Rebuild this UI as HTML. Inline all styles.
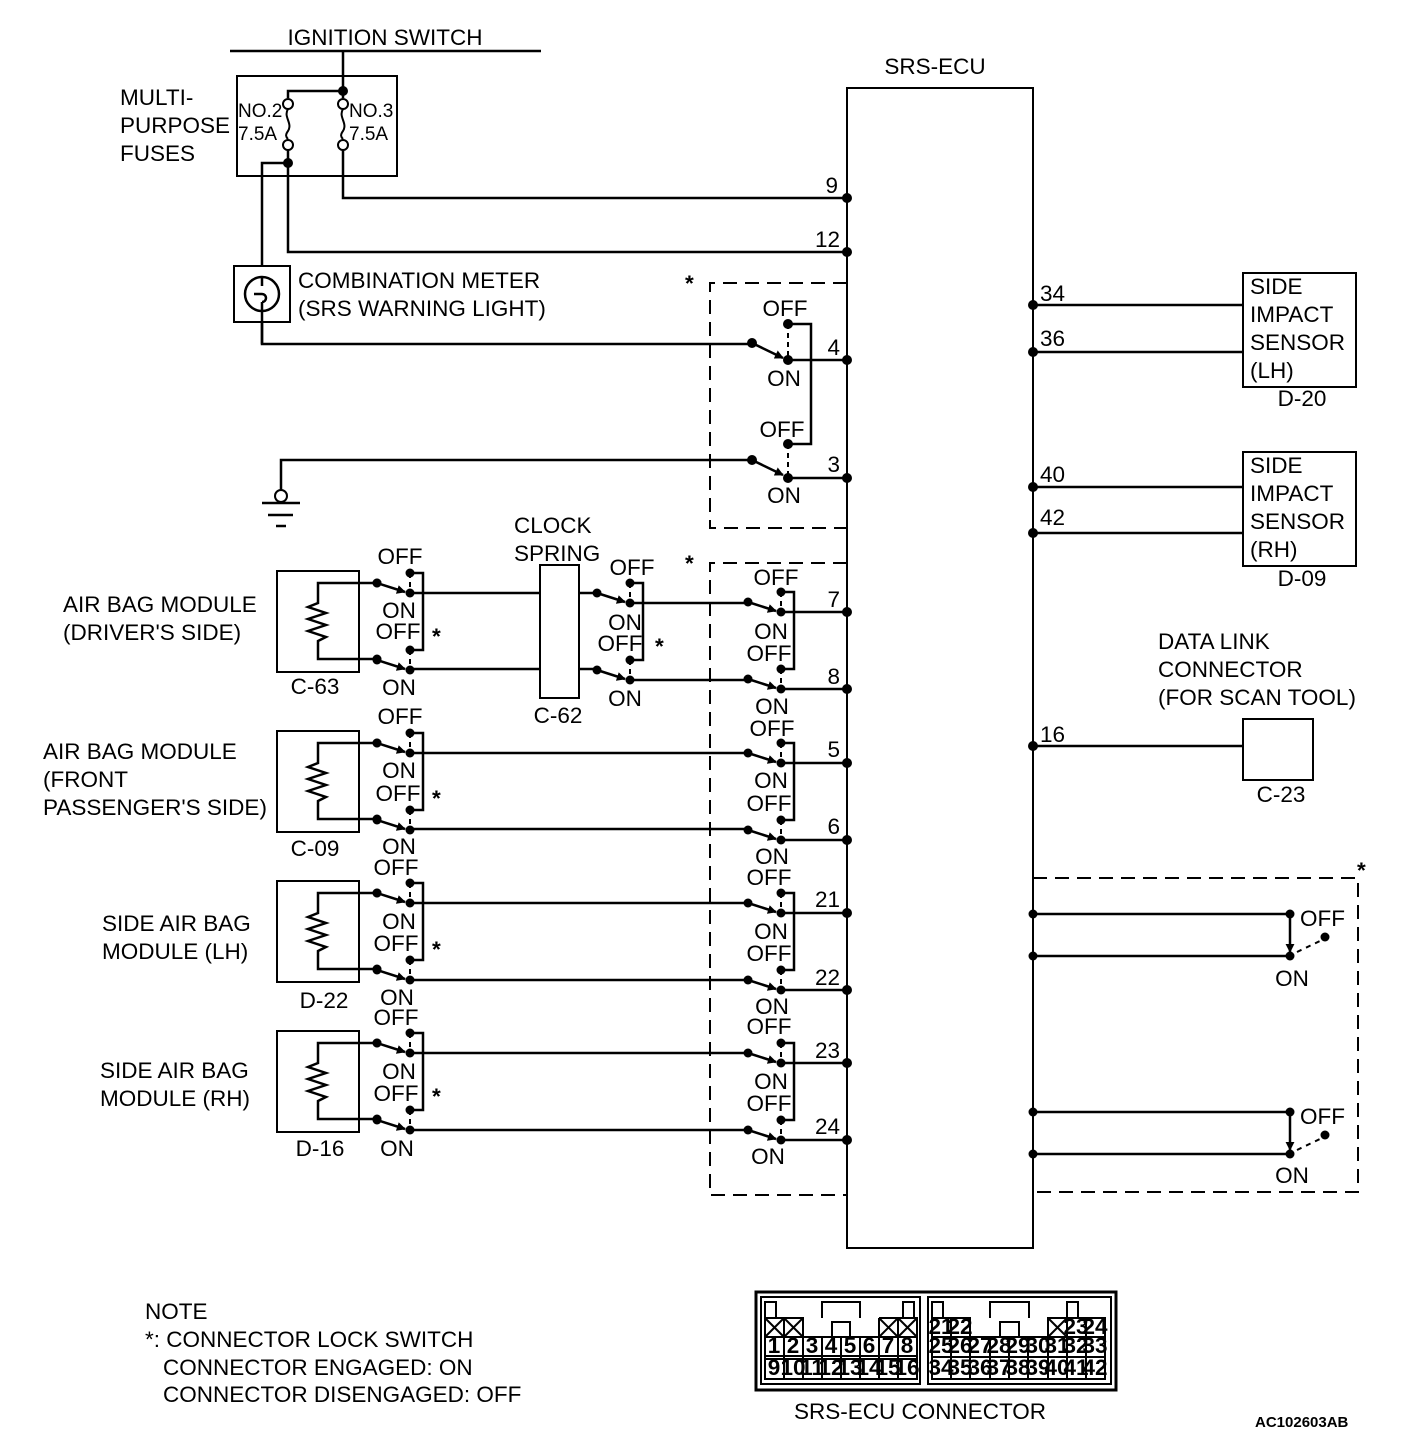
<!DOCTYPE html>
<html><head><meta charset="utf-8"><style>
html,body{margin:0;padding:0;background:#fff}
svg{display:block}
text{font-family:"Liberation Sans",Arial,sans-serif;font-size:22.5px;fill:#000}
</style></head><body>
<svg width="1408" height="1446" viewBox="0 0 1408 1446" xmlns="http://www.w3.org/2000/svg">
<defs>
<marker id="ar" viewBox="0 0 10 10" refX="9" refY="5" markerWidth="9" markerHeight="9" markerUnits="userSpaceOnUse" orient="auto"><path d="M0,0L10,5L0,10z" fill="#000"/></marker>
<g id="sw" stroke="#000" stroke-width="2.5" fill="none">
<line x1="-33" y1="-10" x2="-5" y2="-1" marker-end="url(#ar)"/>
<line x1="0" y1="-20" x2="0" y2="0" stroke-dasharray="5,4" stroke-width="2"/>
<path d="M0,-20H13V57H0"/>
<line x1="0" y1="57" x2="0" y2="77" stroke-dasharray="5,4" stroke-width="2"/>
<line x1="-33" y1="67" x2="-5" y2="76" marker-end="url(#ar)"/>
<g fill="#000" stroke="none">
<circle cx="-33" cy="-10" r="4.5"/><circle cx="0" cy="0" r="4.5"/><circle cx="0" cy="-20" r="4.5"/>
<circle cx="0" cy="57" r="4.5"/><circle cx="-33" cy="67" r="4.5"/><circle cx="0" cy="77" r="4.5"/>
</g></g>
<g id="mod" stroke="#000" stroke-width="2.5" fill="none">
<rect x="277" y="0" width="82" height="101" stroke-width="2"/>
<path d="M377,12H318V32l-10,4l18,6l-18,6l18,6l-18,6l18,6l-8,4V88H377"/>
<circle cx="377" cy="12" r="4.5" fill="#000" stroke="none"/>
<circle cx="377" cy="88" r="4.5" fill="#000" stroke="none"/>
</g>
<g id="rsw" stroke="#000" stroke-width="2.5" fill="none">
<line x1="1290" y1="0" x2="1290" y2="38" marker-end="url(#ar)"/>
<line x1="1297" y1="38" x2="1322" y2="26" stroke-dasharray="5,5" stroke-width="2"/>
<g fill="#000" stroke="none"><circle cx="1290" cy="0" r="4.5"/><circle cx="1290" cy="42" r="4.5"/><circle cx="1325" cy="23" r="4.5"/><circle cx="1033" cy="0" r="4.5"/><circle cx="1033" cy="42" r="4.5"/></g>
<line x1="1033" y1="0" x2="1290" y2="0"/><line x1="1033" y1="42" x2="1290" y2="42"/>
</g>
</defs>

<g stroke="#000" stroke-width="2.5" fill="none">
<line x1="230" y1="51" x2="541" y2="51"/>
<rect x="237" y="76" width="160" height="100" stroke-width="2"/>
<path d="M343,51V91H288V98"/>
<line x1="343" y1="91" x2="343" y2="98"/>
<circle cx="288" cy="104" r="5" stroke-width="2"/><circle cx="288" cy="145" r="5" stroke-width="2"/>
<circle cx="343" cy="104" r="5" stroke-width="2"/><circle cx="343" cy="145" r="5" stroke-width="2"/>
<path d="M288,109c-5,8 5,14 0,22c-3,4 -2,6 0,8" stroke-width="2"/>
<path d="M343,109c-5,8 5,14 0,22c-3,4 -2,6 0,8" stroke-width="2"/>
<path d="M288,150V252H847"/>
<path d="M343,150V198H847"/>
<path d="M288,163H262V344H752"/>
<rect x="234" y="266" width="56" height="56" stroke-width="2" fill="#fff"/>
<circle cx="262" cy="294" r="17" fill="#fff"/>
<path d="M262,277V286M262,302V322M254,294h8a4,4 0 0 1 0,8"/>
<line x1="262" y1="322" x2="262" y2="344"/>
<line x1="752" y1="343" x2="783" y2="358" marker-end="url(#ar)"/>
<line x1="788" y1="324" x2="788" y2="360" stroke-dasharray="5,4" stroke-width="2"/>
<path d="M788,324H811V444H788"/>
<line x1="788" y1="360" x2="847" y2="360"/>
<path d="M752,460H281V490"/>
<line x1="752" y1="460" x2="783" y2="475" marker-end="url(#ar)"/>
<line x1="788" y1="444" x2="788" y2="478" stroke-dasharray="5,4" stroke-width="2"/>
<line x1="788" y1="478" x2="847" y2="478"/>
<circle cx="281" cy="496" r="6" stroke-width="2"/>
<line x1="262" y1="503" x2="300" y2="503"/><line x1="268" y1="515" x2="293" y2="515"/><line x1="276" y1="526" x2="286" y2="526"/>
<rect x="847" y="88" width="186" height="1160" stroke-width="2"/>
<g stroke-dasharray="14,8" stroke-width="2">
<path d="M847,283H710V528H847"/>
<path d="M847,563H710V1195H847"/>
<path d="M1033,878H1358V1192H1033"/>
</g>
<rect x="1243" y="273" width="113" height="114" stroke-width="2"/>
<rect x="1243" y="452" width="113" height="114" stroke-width="2"/>
<rect x="1243" y="719" width="70" height="61" stroke-width="2"/>
<line x1="1033" y1="305" x2="1243" y2="305"/><line x1="1033" y1="352" x2="1243" y2="352"/>
<line x1="1033" y1="487" x2="1243" y2="487"/><line x1="1033" y1="533" x2="1243" y2="533"/>
<line x1="1033" y1="746" x2="1243" y2="746"/>
<rect x="540" y="565" width="39" height="133" stroke-width="2"/>
<line x1="410" y1="593" x2="540" y2="593"/><line x1="410" y1="669" x2="540" y2="669"/>
<line x1="579" y1="593" x2="597" y2="593"/><line x1="579" y1="669" x2="597" y2="669"/>
<line x1="630" y1="603" x2="748" y2="603"/><line x1="630" y1="680" x2="748" y2="680"/>
<line x1="781" y1="612" x2="847" y2="612"/><line x1="781" y1="689" x2="847" y2="689"/>
<line x1="410" y1="753" x2="748" y2="753"/><line x1="410" y1="829" x2="748" y2="829"/>
<line x1="781" y1="763" x2="847" y2="763"/><line x1="781" y1="840" x2="847" y2="840"/>
<line x1="410" y1="903" x2="748" y2="903"/><line x1="410" y1="980" x2="748" y2="980"/>
<line x1="781" y1="913" x2="847" y2="913"/><line x1="781" y1="990" x2="847" y2="990"/>
<line x1="410" y1="1053" x2="748" y2="1053"/><line x1="410" y1="1130" x2="748" y2="1130"/>
<line x1="781" y1="1063" x2="847" y2="1063"/><line x1="781" y1="1140" x2="847" y2="1140"/>
</g>
<g fill="#000">
<circle cx="343" cy="91" r="5"/><circle cx="288" cy="163" r="5"/>
<circle cx="752" cy="343" r="5"/><circle cx="788" cy="324" r="5"/><circle cx="788" cy="360" r="5"/>
<circle cx="752" cy="460" r="5"/><circle cx="788" cy="444" r="5"/><circle cx="788" cy="478" r="5"/>
<circle cx="847" cy="198" r="5"/><circle cx="847" cy="252" r="5"/><circle cx="847" cy="360" r="5"/><circle cx="847" cy="478" r="5"/>
<circle cx="847" cy="612" r="5"/><circle cx="847" cy="689" r="5"/><circle cx="847" cy="763" r="5"/><circle cx="847" cy="840" r="5"/>
<circle cx="847" cy="913" r="5"/><circle cx="847" cy="990" r="5"/><circle cx="847" cy="1063" r="5"/><circle cx="847" cy="1140" r="5"/>
<circle cx="1033" cy="305" r="5"/><circle cx="1033" cy="352" r="5"/><circle cx="1033" cy="487" r="5"/><circle cx="1033" cy="533" r="5"/><circle cx="1033" cy="746" r="5"/>
</g>
<use href="#mod" transform="translate(0,571)"/>
<use href="#mod" transform="translate(0,731)"/>
<use href="#mod" transform="translate(0,881)"/>
<use href="#mod" transform="translate(0,1031)"/>
<use href="#sw" transform="translate(410,593)"/>
<use href="#sw" transform="translate(410,753)"/>
<use href="#sw" transform="translate(410,903)"/>
<use href="#sw" transform="translate(410,1053)"/>
<use href="#sw" transform="translate(630,603)"/>
<use href="#sw" transform="translate(781,612)"/>
<use href="#sw" transform="translate(781,763)"/>
<use href="#sw" transform="translate(781,913)"/>
<use href="#sw" transform="translate(781,1063)"/>
<use href="#rsw" transform="translate(0,914)"/>
<use href="#rsw" transform="translate(0,1112)"/>

<text x="385" y="45" text-anchor="middle">IGNITION SWITCH</text>
<text x="935" y="74" text-anchor="middle">SRS-ECU</text>
<text x="120" y="105">MULTI-</text>
<text x="120" y="133">PURPOSE</text>
<text x="120" y="161">FUSES</text>
<text x="238" y="117" style="font-size:19px">NO.2</text>
<text x="238" y="140" style="font-size:19px">7.5A</text>
<text x="349" y="117" style="font-size:19px">NO.3</text>
<text x="349" y="140" style="font-size:19px">7.5A</text>
<text x="298" y="288">COMBINATION METER</text>
<text x="298" y="316">(SRS WARNING LIGHT)</text>
<g text-anchor="end"><text x="838" y="193">9</text><text x="840" y="247">12</text><text x="840" y="355">4</text><text x="840" y="472">3</text>
<text x="840" y="607">7</text><text x="840" y="684">8</text><text x="840" y="757">5</text><text x="840" y="834">6</text>
<text x="840" y="907">21</text><text x="840" y="985">22</text><text x="840" y="1058">23</text><text x="840" y="1134">24</text></g>
<text x="1040" y="301">34</text><text x="1040" y="346">36</text><text x="1040" y="482">40</text><text x="1040" y="525">42</text><text x="1040" y="742">16</text>
<g text-anchor="middle">
<text x="785" y="316">OFF</text><text x="784" y="386">ON</text><text x="782" y="437">OFF</text><text x="784" y="503">ON</text>
<text x="400" y="564">OFF</text><text x="399" y="618">ON</text><text x="398" y="639">OFF</text><text x="399" y="695">ON</text>
<text x="400" y="724">OFF</text><text x="399" y="778">ON</text><text x="398" y="801">OFF</text><text x="399" y="854">ON</text>
<text x="396" y="875">OFF</text><text x="399" y="929">ON</text><text x="396" y="951">OFF</text><text x="397" y="1005">ON</text>
<text x="396" y="1025">OFF</text><text x="399" y="1079">ON</text><text x="396" y="1101">OFF</text><text x="397" y="1156">ON</text>
<text x="632" y="575">OFF</text><text x="625" y="630">ON</text><text x="620" y="651">OFF</text><text x="625" y="706">ON</text>
<text x="776" y="585">OFF</text><text x="771" y="639">ON</text><text x="769" y="661">OFF</text><text x="772" y="714">ON</text>
<text x="772" y="736">OFF</text><text x="771" y="788">ON</text><text x="769" y="811">OFF</text><text x="772" y="864">ON</text>
<text x="769" y="885">OFF</text><text x="771" y="939">ON</text><text x="769" y="961">OFF</text><text x="772" y="1014">ON</text>
<text x="769" y="1034">OFF</text><text x="771" y="1089">ON</text><text x="769" y="1111">OFF</text><text x="768" y="1164">ON</text>
<text x="315" y="694">C-63</text><text x="315" y="856">C-09</text><text x="324" y="1008">D-22</text><text x="320" y="1156">D-16</text>
<text x="558" y="723">C-62</text>
<text x="1302" y="406">D-20</text><text x="1302" y="586">D-09</text><text x="1281" y="802">C-23</text>
<text x="1292" y="986">ON</text><text x="1292" y="1183">ON</text>
<text x="920" y="1419">SRS-ECU CONNECTOR</text>
</g>
<text x="1300" y="926">OFF</text><text x="1300" y="1124">OFF</text>
<g style="font-size:28px;font-weight:bold">
<text x="685" y="291">*</text><text x="685" y="571">*</text><text x="1357" y="878">*</text>
<text x="432" y="644">*</text><text x="655" y="654">*</text><text x="432" y="806">*</text><text x="432" y="957">*</text><text x="432" y="1104">*</text>
</g>
<text x="514" y="533">CLOCK</text><text x="514" y="561">SPRING</text>
<text x="63" y="612">AIR BAG MODULE</text><text x="63" y="640">(DRIVER'S SIDE)</text>
<text x="43" y="759">AIR BAG MODULE</text><text x="43" y="787">(FRONT</text><text x="43" y="815">PASSENGER'S SIDE)</text>
<text x="102" y="931">SIDE AIR BAG</text><text x="102" y="959">MODULE (LH)</text>
<text x="100" y="1078">SIDE AIR BAG</text><text x="100" y="1106">MODULE (RH)</text>
<text x="1250" y="294">SIDE</text><text x="1250" y="322">IMPACT</text><text x="1250" y="350">SENSOR</text><text x="1250" y="378">(LH)</text>
<text x="1250" y="473">SIDE</text><text x="1250" y="501">IMPACT</text><text x="1250" y="529">SENSOR</text><text x="1250" y="557">(RH)</text>
<text x="1158" y="649">DATA LINK</text><text x="1158" y="677">CONNECTOR</text><text x="1158" y="705">(FOR SCAN TOOL)</text>
<text x="145" y="1319">NOTE</text>
<text x="145" y="1347">*: CONNECTOR LOCK SWITCH</text>
<text x="163" y="1375">CONNECTOR ENGAGED: ON</text>
<text x="163" y="1402">CONNECTOR DISENGAGED: OFF</text>
<text x="1255" y="1427" style="font-size:15px;font-weight:bold">AC102603AB</text>

<g stroke="#000" fill="none" stroke-width="2">
<rect x="756" y="1292" width="360" height="98" stroke-width="3"/>
<rect x="761" y="1297" width="159" height="87"/>
<rect x="928" y="1297" width="183" height="87"/>
<path d="M765,1318V1302H776V1318M903,1318V1302H914V1318M822,1318V1302H860V1318M832,1337V1322H850V1337"/>
<path d="M765,1318H803V1337M765,1318V1379H917V1318H879M784,1318V1337M879,1318V1337M898,1318V1337M765,1337H917M765,1356H917M765,1359H917"/>
<path d="M765,1318l19,19M784,1318l-19,19M784,1318l19,19M803,1318l-19,19M879,1318l19,19M898,1318l-19,19M898,1318l19,19M917,1318l-19,19"/>
<path d="M784,1337V1379M803,1337V1379M822,1337V1379M841,1337V1379M860,1337V1379M879,1337V1379M898,1337V1379"/>
<path d="M932,1318V1302H943V1318M1067,1318V1302H1078V1318M990,1318V1302H1029V1318M1000,1337V1322H1019V1337"/>
<path d="M932,1318H970V1337M932,1318V1379H1105V1318H1048V1337M1067,1318V1337M1086,1318V1337M951,1318V1337M932,1337H1105M932,1357H1105"/>
<path d="M1048,1318l19,19M1067,1318l-19,19"/>
<path d="M951,1337V1379M970,1337V1379M990,1337V1379M1009,1337V1379M1028,1337V1379M1048,1337V1379M1067,1337V1379M1086,1337V1379"/>
</g>
<g text-anchor="middle" style="font-size:14px;font-weight:bold">
<text x="774" y="1353">1</text><text x="793" y="1353">2</text><text x="812" y="1353">3</text><text x="831" y="1353">4</text><text x="850" y="1353">5</text><text x="869" y="1353">6</text><text x="888" y="1353">7</text><text x="907" y="1353">8</text>
<text x="774" y="1375">9</text><text x="793" y="1375">10</text><text x="812" y="1375">11</text><text x="831" y="1375">12</text><text x="850" y="1375">13</text><text x="869" y="1375">14</text><text x="888" y="1375">15</text><text x="907" y="1375">16</text>
<text x="941" y="1334">21</text><text x="960" y="1334">22</text><text x="1076" y="1334">23</text><text x="1095" y="1334">24</text>
<text x="941" y="1353">25</text><text x="960" y="1353">26</text><text x="980" y="1353">27</text><text x="999" y="1353">28</text><text x="1018" y="1353">29</text><text x="1038" y="1353">30</text><text x="1057" y="1353">31</text><text x="1076" y="1353">32</text><text x="1095" y="1353">33</text>
<text x="941" y="1375">34</text><text x="960" y="1375">35</text><text x="980" y="1375">36</text><text x="999" y="1375">37</text><text x="1018" y="1375">38</text><text x="1038" y="1375">39</text><text x="1057" y="1375">40</text><text x="1076" y="1375">41</text><text x="1095" y="1375">42</text>
</g>
</svg>
</body></html>
